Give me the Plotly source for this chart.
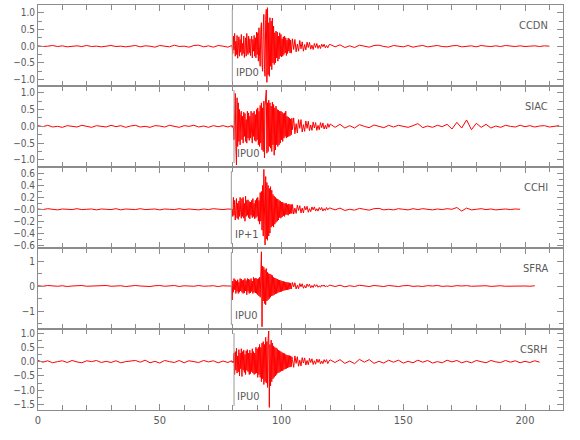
import numpy as np
import plotly.graph_objects as go
from plotly.subplots import make_subplots

# ---------------- data ----------------
stations = ["CCDN", "SIAC", "CCHI", "SFRA", "CSRH"]
phases = ["IPD0", "IPU0", "IP+1", "IPU0", "IPU0"]
p_times = [79.8, 80.5, 79.4, 79.4, 80.5]

# sampling of the four segments (seconds)
pre_start, pre_step = 0.0, 2.0
dense_start, dense_step = 79.5, 0.25
tail_start, tail_step = 104.5, 0.5
coda_start, coda_step = 120.0, 2.0

ccdn_pre = [0.01, -0.01, 0.00, 0.02, -0.01, 0.01, -0.02, 0.00, 0.01, -0.01,
            0.02, -0.01, 0.00, -0.02, 0.01, 0.02, -0.01, 0.00, -0.02, 0.01,
            0.02, -0.02, 0.01, 0.00, -0.03, 0.02, 0.01, -0.02, 0.03, -0.01,
            0.00, -0.03, 0.02, 0.03, -0.02, 0.01, -0.03, 0.02, 0.00, -0.03]
ccdn_dense = [0.02, -0.03, -0.22, 0.30, -0.12, 0.38, -0.30, 0.15, -0.25, 0.32,
              -0.36, 0.10, 0.28, -0.30, 0.20, -0.18, 0.35, -0.28, 0.08, -0.22,
              0.30, -0.34, 0.15, 0.25, -0.30, 0.38, -0.12, -0.25, 0.30, -0.20,
              0.22, -0.28, 0.12, 0.30, -0.35, 0.20, -0.15, 0.32, -0.30, 0.25,
              -0.35, 0.42, -0.25, 0.40, -0.45, 0.55, -0.30, -0.60, 0.50, 0.70,
              -0.55, -0.75, 0.60, 0.95, -0.70, -0.90, 0.80, 1.10, -1.08, 1.15,
              -0.85, 0.70, -0.90, 0.85, -0.60, 0.75, -0.70, 0.84, -0.50, 0.60,
              -0.55, 0.40, -0.50, 0.45, -0.35, 0.42, -0.45, 0.30, -0.38, 0.40,
              -0.30, 0.35, -0.32, 0.22, -0.30, 0.28, -0.25, 0.30, -0.20, 0.25,
              -0.28, 0.18, -0.22, 0.24, -0.15, 0.22, -0.20, 0.18, -0.21, 0.15]
ccdn_tail = [0.22, -0.10, 0.20, -0.17, 0.06, -0.15, 0.17, -0.08, 0.13, -0.15,
             0.05, -0.11, 0.12, -0.04, 0.11, -0.09, 0.03, -0.10, 0.08, -0.04,
             0.08, -0.07, 0.03, -0.07, 0.06, -0.02, 0.06, -0.05, 0.02, -0.05, 0.04]
ccdn_coda = [0.05, -0.02, 0.04, -0.04, 0.01, -0.04, 0.03, 0.00, -0.03, 0.02,
             0.03, -0.01, -0.03, 0.02, 0.01, -0.02, 0.02, -0.03, 0.00, 0.02,
             -0.02, 0.01, 0.02, -0.01, -0.02, 0.01, 0.02, -0.02, 0.00, 0.01,
             -0.02, 0.02, 0.00, -0.01, 0.01, -0.01, 0.02, 0.00, -0.01, 0.01,
             -0.01, 0.00, 0.01, -0.01, 0.01, 0.00]

siac_pre = [0.02, -0.01, 0.03, -0.02, 0.00, -0.03, 0.02, 0.01, -0.02, 0.03,
            -0.01, -0.03, 0.02, 0.00, -0.02, 0.03, -0.01, 0.02, -0.03, 0.01,
            0.03, -0.02, 0.00, -0.03, 0.02, 0.01, -0.02, 0.03, -0.01, -0.03,
            0.02, 0.00, 0.03, -0.02, 0.01, -0.03, 0.02, -0.01, 0.02, -0.02]
siac_dense = [0.02, -0.03, 0.02, -0.05, -0.40, 0.30, 0.98, -0.60, -1.15, 0.85,
              -0.60, 0.70, -0.45, 0.50, -0.55, 0.35, 0.45, -0.40, 0.30, -0.50,
              0.42, -0.30, 0.38, -0.45, 0.20, -0.50, 0.45, -0.35, 0.40, -0.42,
              0.30, -0.35, 0.45, -0.25, -0.50, 0.40, -0.30, 0.45, -0.42, 0.35,
              -0.45, 0.50, -0.40, 0.55, -0.55, 0.45, -0.60, 0.62, -0.50, 0.70,
              -0.70, 0.55, -0.75, 0.75, -0.94, 0.60, 0.85, 1.08, -0.80, 0.70,
              -0.75, 0.78, -0.60, 0.70, -0.65, 0.60, -0.75, 0.72, -0.55, 0.65,
              -0.86, 0.55, -0.70, 0.60, -0.55, 0.50, -0.60, 0.48, -0.55, 0.45,
              -0.50, 0.45, -0.40, 0.42, -0.45, 0.38, -0.35, 0.40, -0.30, 0.45,
              -0.35, 0.30, -0.32, 0.28, -0.30, 0.25, -0.28, 0.22, -0.25, 0.24]
siac_tail = [-0.10, 0.25, -0.22, 0.08, -0.20, 0.20, -0.06, 0.20, -0.17, 0.05,
             -0.15, 0.16, -0.06, 0.15, -0.13, 0.04, -0.12, 0.13, -0.05, 0.11,
             -0.12, 0.03, -0.10, 0.11, -0.04, 0.10, -0.08, 0.03, -0.08, 0.08, -0.03]
siac_coda = [0.07, -0.03, 0.06, -0.05, 0.02, -0.05, 0.05, 0.00, -0.04, 0.04,
             0.01, -0.04, 0.03, -0.02, 0.03, 0.00, -0.03, 0.02, 0.08, -0.04,
             0.01, -0.03, 0.03, -0.01, 0.06, -0.08, 0.12, -0.05, 0.19, -0.10,
             0.09, -0.03, 0.06, -0.05, 0.01, -0.03, 0.03, 0.00, -0.02, 0.03,
             -0.01, 0.02, -0.02, 0.01, 0.02, -0.02, 0.00, 0.02]

cchi_pre = [0.005, -0.005, 0.01, 0.00, -0.01, 0.005, 0.00, -0.005, 0.01, -0.005,
            0.00, 0.005, -0.01, 0.005, 0.00, -0.005, 0.01, -0.01, 0.005, 0.00,
            -0.005, 0.01, -0.005, 0.00, 0.005, -0.01, 0.005, 0.00, -0.005, 0.01,
            -0.005, 0.005, 0.00, -0.01, 0.005, -0.005, 0.01, 0.00, -0.005, 0.005]
cchi_dense = [0.01, 0.00, -0.12, 0.20, -0.10, 0.15, -0.18, 0.12, 0.18, -0.15,
              0.10, -0.17, 0.14, -0.12, 0.20, -0.05, -0.15, 0.18, -0.12, 0.20,
              -0.15, 0.10, -0.20, 0.22, -0.12, 0.15, -0.10, 0.16, -0.14, 0.13,
              -0.16, 0.12, -0.10, 0.15, -0.14, 0.18, -0.12, 0.10, -0.16, 0.15,
              -0.14, 0.18, -0.12, 0.20, -0.20, 0.15, -0.25, 0.28, -0.20, 0.30,
              -0.35, 0.40, -0.45, 0.67, -0.40, -0.60, 0.55, -0.50, 0.45, -0.52,
              0.40, -0.45, 0.35, -0.40, 0.38, -0.30, 0.32, -0.28, 0.25, -0.30,
              0.22, -0.25, 0.20, -0.22, 0.18, -0.20, 0.17, -0.18, 0.15, -0.14,
              0.14, -0.15, 0.12, -0.13, 0.12, -0.11, 0.10, -0.12, 0.10, -0.09,
              0.10, -0.09, 0.08, -0.10, 0.09, -0.08, 0.08, -0.07, 0.08, -0.07]
cchi_tail = [0.08, -0.08, 0.02, -0.07, 0.07, -0.02, 0.06, -0.06, 0.02, -0.06,
             0.05, -0.01, 0.05, -0.05, 0.01, -0.04, 0.04, -0.01, 0.04, -0.03,
             0.01, -0.03, 0.03, -0.01, 0.03, -0.03, 0.01, -0.02, 0.03, -0.01, 0.02]
cchi_coda = [0.02, -0.01, 0.02, -0.02, 0.00, -0.015, 0.015, 0.00, -0.015, 0.01,
             0.015, -0.01, 0.00, -0.01, 0.01, 0.00, -0.01, 0.01, -0.005, 0.01,
             0.00, -0.01, 0.005, -0.005, 0.01, 0.00, 0.03, -0.03, 0.02, -0.01,
             0.00, 0.01, -0.005, 0.005, -0.01, 0.00, 0.005, -0.005, 0.005, 0.00]

sfra_pre = [0.01, -0.01, 0.02, 0.00, -0.01, 0.01, -0.02, 0.00, 0.01, 0.02,
            -0.01, 0.00, -0.02, 0.01, 0.02, -0.01, 0.00, 0.01, -0.02, 0.01,
            0.02, 0.00, -0.01, -0.02, 0.01, 0.02, -0.01, 0.00, 0.02, -0.02,
            0.01, 0.00, -0.01, 0.02, -0.01, 0.00, 0.01, -0.02, 0.01, 0.00]
sfra_dense = [0.00, -0.56, 0.20, -0.25, 0.30, -0.15, 0.25, -0.30, 0.20, -0.22,
              0.25, -0.30, 0.15, -0.25, 0.30, -0.20, 0.28, -0.25, 0.22, -0.30,
              0.25, -0.28, 0.30, -0.20, 0.22, -0.35, 0.30, -0.22, 0.28, -0.30,
              0.25, -0.28, 0.30, -0.22, 0.20, -0.30, 0.35, -0.25, 0.30, -0.28,
              0.32, -0.30, 0.28, -0.35, 0.30, -0.40, 0.35, -0.45, 0.55, 1.37,
              -1.63, 0.80, -0.60, 0.75, -0.70, 0.65, -0.75, 0.70, -0.60, 0.55,
              -0.55, 0.50, -0.50, 0.48, -0.45, 0.45, -0.40, 0.42, -0.38, 0.35,
              -0.35, 0.32, -0.32, 0.30, -0.30, 0.28, -0.27, 0.25, -0.25, 0.24,
              -0.24, 0.22, -0.22, 0.20, -0.20, 0.19, -0.18, 0.17, -0.17, 0.16,
              -0.16, 0.15, -0.15, 0.14, -0.14, 0.13, -0.12, 0.12, -0.12, 0.11]
sfra_tail = [0.14, -0.04, 0.13, -0.12, 0.03, -0.11, 0.10, -0.03, 0.09, -0.09,
             0.02, -0.08, 0.08, -0.02, 0.07, -0.07, 0.02, -0.06, 0.06, -0.02,
             0.05, -0.05, 0.01, -0.05, 0.04, -0.01, 0.04, -0.04, 0.01, -0.03, 0.03]
sfra_coda = [0.03, -0.02, 0.03, -0.03, 0.01, -0.02, 0.03, 0.00, -0.02, 0.02,
             0.01, -0.02, 0.02, 0.00, -0.02, 0.01, 0.02, -0.015, 0.00, -0.02,
             0.015, 0.00, 0.02, -0.015, 0.00, -0.015, 0.015, 0.00, 0.015, -0.01,
             0.00, -0.01, 0.01, -0.015, 0.00, 0.01, -0.01, 0.00, 0.01, -0.01,
             0.00, -0.01, 0.01]

csrh_pre = [0.04, -0.02, 0.03, -0.04, 0.00, 0.03, -0.03, 0.04, -0.01, -0.04,
            0.03, 0.00, 0.04, -0.03, 0.01, -0.03, 0.03, -0.04, 0.00, 0.03,
            0.04, -0.02, 0.05, -0.04, 0.01, -0.05, 0.04, 0.00, -0.03, 0.04,
            -0.04, 0.03, 0.00, -0.03, 0.04, -0.01, 0.03, -0.04, 0.02, -0.03]
csrh_dense = [0.03, -0.03, 0.02, -0.04, 0.30, -0.45, 0.35, -0.30, 0.47, -0.40,
              0.20, -0.35, 0.42, -0.50, 0.30, -0.25, 0.45, -0.52, 0.35, -0.30,
              0.40, -0.38, 0.25, -0.45, 0.38, -0.30, 0.42, -0.35, 0.30, -0.45,
              0.40, -0.42, 0.30, -0.35, 0.45, -0.40, 0.35, -0.45, 0.30, -0.42,
              0.50, -0.40, 0.45, -0.55, 0.50, -0.45, 0.60, -0.55, 0.50, -0.70,
              0.65, -0.60, 0.70, -0.80, 0.60, -0.70, 0.85, -0.75, 0.70, -0.90,
              0.80, 1.07, -1.60, 0.60, -0.85, 0.75, -0.70, 0.65, -0.60, 0.55,
              -0.55, 0.50, -0.50, 0.48, -0.45, 0.45, -0.40, 0.40, -0.38, 0.38,
              -0.35, 0.35, -0.33, 0.32, -0.32, 0.30, -0.28, 0.28, -0.26, 0.25,
              -0.24, 0.23, -0.22, 0.22, -0.20, 0.21, -0.19, 0.20, -0.18, 0.17]
csrh_tail = [0.07, -0.20, 0.20, -0.06, 0.17, -0.16, 0.05, -0.15, 0.14, -0.05,
             0.13, -0.12, 0.04, -0.11, 0.11, -0.03, 0.10, -0.10, 0.03, -0.09,
             0.09, -0.03, 0.08, -0.08, 0.02, -0.07, 0.07, -0.02, 0.07, -0.07, 0.02]
csrh_coda = [0.06, -0.03, 0.07, -0.06, 0.02, -0.07, 0.08, -0.02, 0.07, -0.06,
             0.01, -0.05, 0.05, -0.02, 0.05, -0.05, 0.01, -0.04, 0.05, -0.02,
             0.04, -0.05, 0.00, -0.04, 0.05, -0.01, 0.04, -0.04, 0.01, -0.04,
             0.04, 0.00, -0.04, 0.04, -0.01, -0.03, 0.04, -0.02, 0.03, -0.04,
             0.01, -0.03, 0.03, -0.02]

y_ranges = [[-1.19, 1.23], [-1.21, 1.20], [-0.65, 0.71], [-1.72, 1.52], [-1.69, 1.14]]
y_tickvals = [[-1, -0.5, 0, 0.5, 1],
              [-1, -0.5, 0, 0.5, 1],
              [-0.6, -0.4, -0.2, 0, 0.2, 0.4, 0.6],
              [-1, 0, 1],
              [-1.5, -1, -0.5, 0, 0.5, 1]]
y_ticktext = [["−1.0", "−0.5", "0.0", "0.5", "1.0"],
              ["−1.0", "−0.5", "0.0", "0.5", "1.0"],
              ["−0.6", "−0.4", "−0.2", "−0.0", "0.2", "0.4", "0.6"],
              ["−1", "0", "1"],
              ["−1.5", "−1.0", "−0.5", "0.0", "0.5", "1.0"]]
y_minor = [0.25, 0.25, 0.1, 0.5, 0.25]
x_range = [0, 215.6]
x_tickvals = [0, 50, 100, 150, 200]

segments = [(ccdn_pre, ccdn_dense, ccdn_tail, ccdn_coda),
            (siac_pre, siac_dense, siac_tail, siac_coda),
            (cchi_pre, cchi_dense, cchi_tail, cchi_coda),
            (sfra_pre, sfra_dense, sfra_tail, sfra_coda),
            (csrh_pre, csrh_dense, csrh_tail, csrh_coda)]

# ---------------- figure ----------------
FONT = "DejaVu Sans Condensed, Liberation Sans Narrow, Liberation Sans, sans-serif"
AXC = "#8c8c8c"
TXC = "#5a5a5a"

fig = make_subplots(rows=5, cols=1, shared_xaxes=True, vertical_spacing=0)

for i, (pre, dense, tail, coda) in enumerate(segments):
    r = i + 1
    t = np.concatenate([pre_start + pre_step * np.arange(len(pre)),
                        dense_start + dense_step * np.arange(len(dense)),
                        tail_start + tail_step * np.arange(len(tail)),
                        coda_start + coda_step * np.arange(len(coda))])
    v = np.concatenate([pre, dense, tail, coda])
    fig.add_trace(go.Scatter(x=t, y=v, mode="lines",
                             line=dict(color="rgb(255,0,0)", width=1.0),
                             showlegend=False, hoverinfo="skip"), row=r, col=1)
    yref = "y" if r == 1 else f"y{r}"
    xref = "x" if r == 1 else f"x{r}"
    fig.add_shape(type="line", xref=xref, yref=f"{yref} domain",
                  x0=p_times[i], x1=p_times[i], y0=0.05, y1=0.95,
                  line=dict(color="#9a9a9a", width=1))
    fig.add_annotation(x=p_times[i] + 0.6, y=0.17, xref=xref, yref=f"{yref} domain",
                       text=phases[i], showarrow=False, xanchor="left", yanchor="middle",
                       font=dict(family=FONT, size=11, color=TXC))
    fig.add_annotation(x=0.975, y=0.75, xref=f"{xref} domain", yref=f"{yref} domain",
                       text=stations[i], showarrow=False, xanchor="right", yanchor="middle",
                       font=dict(family=FONT, size=11, color=TXC))
    fig.update_yaxes(row=r, col=1, range=y_ranges[i], tickmode="array",
                     tickvals=y_tickvals[i], ticktext=y_ticktext[i],
                     ticks="inside", ticklen=6, tickcolor=AXC,
                     minor=dict(tickmode="linear", tick0=0, dtick=y_minor[i],
                                ticks="inside", ticklen=4, tickcolor=AXC),
                     showline=True, linecolor=AXC, linewidth=1, mirror="ticks",
                     showgrid=False, zeroline=False, automargin=False,
                     tickfont=dict(family=FONT, size=10, color=TXC))
    fig.update_xaxes(row=r, col=1, range=x_range, tickmode="array", tickvals=x_tickvals,
                     ticks="inside", ticklen=6, tickcolor=AXC,
                     minor=dict(tickmode="linear", tick0=0, dtick=10,
                                ticks="inside", ticklen=5, tickcolor=AXC),
                     showline=True, linecolor=AXC, linewidth=1, mirror="ticks",
                     showgrid=False, zeroline=False, automargin=False,
                     tickfont=dict(family=FONT, size=11, color=TXC))

fig.update_layout(width=580, height=440, margin=dict(l=38, r=17, t=5, b=30),
                  plot_bgcolor="white", paper_bgcolor="white")

fig.write_html("out.html", config={"displayModeBar": False},
               post_script="document.body.style.margin='0';document.body.style.padding='0';")
